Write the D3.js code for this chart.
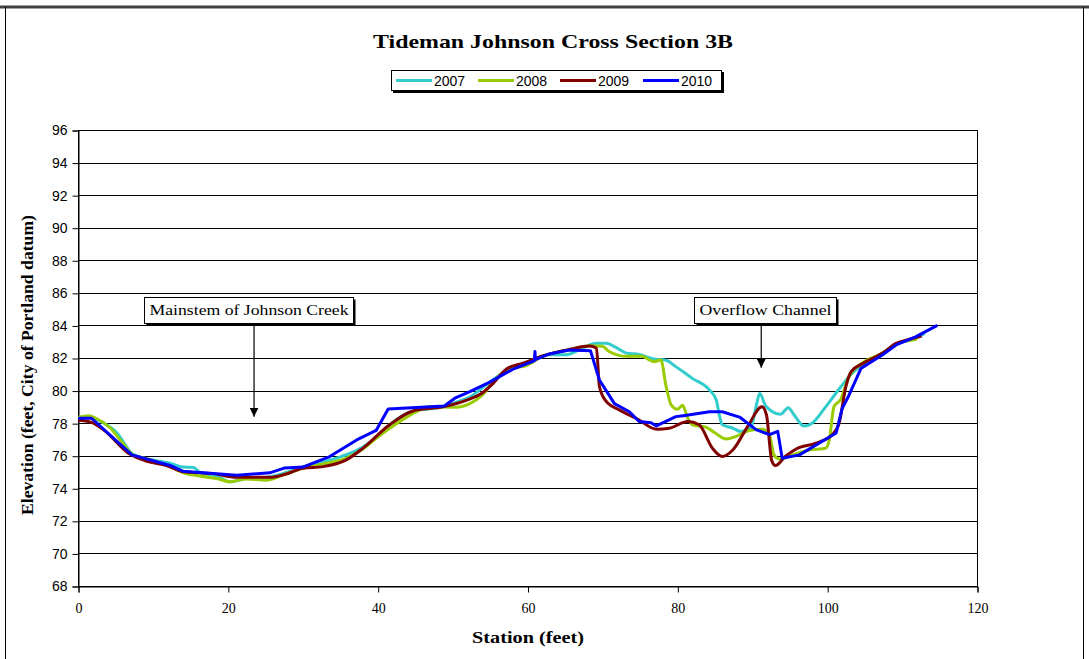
<!DOCTYPE html>
<html>
<head>
<meta charset="utf-8">
<script src="https://cdn.jsdelivr.net/npm/d3@7"></script>
<style>
  html, body { margin: 0; padding: 0; background: #fff; }
  svg { display: block; }
</style>
</head>
<body>
<svg id="chart" width="1089" height="659"></svg>
<script>
// Survey years and their line colours
const years = ["2007", "2008", "2009", "2010"];
const colors = ["#33CCCC", "#99CC00", "#800000", "#0000FF"];

// Surveyed profiles: [station (ft), elevation (ft)]
const profile2007 = [
  [0, 78.35], [1.6, 78.4], [2.6, 78.2], [5.2, 77.4], [7.3, 76.1], [10.0, 75.74], [12.3, 75.54],
  [14.0, 75.3], [15.4, 75.28], [16.3, 74.97], [18.5, 74.76], [20.3, 74.4], [22.5, 74.6],
  [25.6, 74.7], [27.8, 74.97], [30.0, 75.3], [34.5, 75.85], [37.2, 76.33], [39.8, 77.1],
  [41.6, 77.9], [44.7, 78.75], [48.7, 79.0], [50.7, 79.32], [52.3, 79.6], [54.5, 80.35],
  [56.7, 81.07], [58.9, 81.57], [61.2, 81.98], [62.9, 82.2], [65.2, 82.2], [66.9, 82.5],
  [69.2, 82.9], [70.5, 82.9], [71.8, 82.65], [73.2, 82.3], [74.9, 82.22], [76.7, 81.95],
  [78.5, 81.86], [79.8, 81.47], [82.0, 80.75], [84.3, 80.03], [85.2, 79.42], [85.6, 78.5],
  [86.0, 77.9], [87.4, 77.7], [88.5, 77.48], [89.8, 77.7], [90.5, 79.0], [91.0, 79.82],
  [91.8, 79.06], [93.8, 78.55], [94.8, 78.95], [95.6, 78.5], [96.9, 77.82], [98.0, 78.0],
  [99.8, 79.0], [101.6, 80.1], [103.8, 81.26], [105.1, 81.6], [107.4, 82.3], [109.2, 82.85],
  [111.8, 83.2], [113.0, 83.5]
];
const profile2008 = [
  [0, 78.35], [1.4, 78.45], [2.4, 78.3], [4.3, 77.7], [6.0, 76.76], [7.3, 76.05], [9.2, 75.8],
  [12.3, 75.33], [14.0, 74.97], [16.7, 74.72], [18.5, 74.6], [20.3, 74.4], [22.5, 74.57],
  [25.2, 74.5], [27.4, 74.82], [30.0, 75.23], [32.7, 75.49], [35.8, 75.85], [38.0, 76.4],
  [39.8, 77.07], [42.3, 77.9], [45.2, 78.71], [46.9, 79.0], [50.5, 78.98], [52.3, 79.2],
  [54.0, 79.73], [55.8, 80.75], [57.6, 81.3], [60.0, 81.57], [62.0, 82.1], [65.6, 82.5],
  [68.3, 82.75], [70.0, 82.72], [70.9, 82.4], [73.2, 82.1], [75.2, 82.1], [76.9, 81.78],
  [77.8, 81.88], [78.5, 80.25], [79.2, 79.1], [80.0, 78.85], [80.7, 79.1], [81.4, 78.3],
  [82.0, 77.9], [83.8, 77.75], [85.1, 77.38], [86.5, 77.03], [87.8, 77.18], [89.6, 77.55],
  [91.4, 77.63], [92.3, 77.27], [92.9, 76.05], [93.6, 75.8], [95.4, 76.05], [97.6, 76.35],
  [99.8, 76.46], [100.3, 77.0], [100.9, 79.0], [101.8, 79.45], [102.9, 80.85], [104.7, 81.7],
  [107.4, 82.3], [109.2, 82.85], [112.0, 83.15]
];
const profile2009 = [
  [0, 78.2], [1.8, 78.05], [3.4, 77.6], [6.9, 76.1], [9.2, 75.65], [11.8, 75.4], [14.0, 75.02],
  [18.0, 74.9], [21.2, 74.67], [25.6, 74.67], [27.8, 74.88], [30.0, 75.23], [32.7, 75.33],
  [35.8, 75.74], [38.0, 76.45], [41.6, 77.9], [44.7, 78.75], [48.7, 79.0], [51.8, 79.4],
  [53.8, 79.8], [55.2, 80.35], [57.2, 81.33], [59.4, 81.68], [62.0, 82.12], [65.6, 82.53],
  [68.3, 82.73], [69.2, 82.6], [69.6, 80.25], [70.4, 79.4], [72.3, 78.8], [74.5, 78.3],
  [77.3, 77.62], [78.9, 77.68], [81.4, 78.1], [82.9, 77.9], [84.7, 76.45], [86.0, 75.95],
  [87.4, 76.35], [89.4, 77.8], [91.3, 79.0], [91.9, 78.5], [92.6, 75.7], [93.1, 75.4],
  [94.4, 75.95], [95.8, 76.4], [98.5, 76.77], [100.7, 77.3], [101.6, 78.0], [102.5, 80.25],
  [103.2, 81.17], [104.8, 81.68], [107.4, 82.3], [109.2, 82.9], [110.6, 83.1], [112.6, 83.35]
];
const profile2010 = [
  [0, 78.3], [1.8, 78.3], [7.2, 76.05], [12.3, 75.4], [14.0, 75.05], [21.2, 74.8],
  [25.6, 74.95], [27.6, 75.25], [30.0, 75.3], [33.6, 75.95], [37.2, 76.97], [39.8, 77.55],
  [41.4, 78.87], [48.9, 79.05], [50.3, 79.53], [52.3, 79.93], [54.9, 80.5], [58.0, 81.3],
  [60.9, 81.83], [61.0, 82.4], [61.05, 81.9], [62.9, 82.25], [65.6, 82.49], [68.4, 82.45],
  [69.6, 80.65], [71.6, 79.2], [73.6, 78.7], [74.9, 78.1], [76.5, 78.03], [77.2, 77.83],
  [79.8, 78.4], [80.8, 78.46], [84.3, 78.7], [86.0, 78.7], [88.4, 78.35], [90.5, 77.6],
  [92.3, 77.3], [93.4, 77.5], [94.0, 75.85], [96.3, 76.05], [101.2, 77.4], [102.0, 78.9],
  [102.9, 79.7], [104.5, 81.35], [107.4, 82.2], [109.2, 82.8], [111.8, 83.3], [114.7, 84.0]
];
const profiles = [profile2007, profile2008, profile2009, profile2010];

// Axis ticks
const xTicks = [0, 20, 40, 60, 80, 100, 120];
const yTicks = [68, 70, 72, 74, 76, 78, 80, 82, 84, 86, 88, 90, 92, 94, 96];

// Text
const titleText = "Tideman Johnson Cross Section 3B";
const xTitle = "Station (feet)";
const yTitle = "Elevation (feet, City of Portland datum)";
const notes = [
  { text: "Mainstem of Johnson Creek", x: 23.5, left: 144, width: 209, yTop: 297, tip: 78.4 },
  { text: "Overflow Channel", x: 91.2, left: 694, width: 142, yTop: 297, tip: 81.4 }
];

const serif = "'Palatino Linotype', 'Book Antiqua', Palatino, 'Liberation Serif', 'DejaVu Serif', serif";
const sans = "Arial, 'Liberation Sans', Helvetica, sans-serif";

const svg = d3.select("#chart");
const W = 1089, H = 659;
const plot = { left: 78, right: 977, top: 130, bottom: 586 };

const x = d3.scaleLinear().domain([0, 120]).range([plot.left, plot.right]);
const y = d3.scaleLinear().domain([68, 96]).range([plot.bottom, plot.top]);

// Outer frame
svg.append("rect").attr("x", 0).attr("y", 0).attr("width", W).attr("height", H).attr("fill", "#fff");
svg.append("line").attr("x1", 0).attr("x2", W).attr("y1", 7).attr("y2", 7)
  .attr("stroke", "#404040").attr("stroke-width", 3);
svg.append("line").attr("x1", 5.5).attr("x2", 5.5).attr("y1", 7).attr("y2", H)
  .attr("stroke", "#000").attr("stroke-width", 1);
svg.append("line").attr("x1", 1083.5).attr("x2", 1083.5).attr("y1", 7).attr("y2", H)
  .attr("stroke", "#000").attr("stroke-width", 1);

// Title
svg.append("text").attr("x", 553).attr("y", 48).attr("text-anchor", "middle")
  .attr("font-family", serif).attr("font-weight", "bold").attr("font-size", 19)
  .attr("textLength", 360).attr("lengthAdjust", "spacingAndGlyphs")
  .text(titleText);

// Legend
const lg = svg.append("g");
lg.append("rect").attr("x", 393).attr("y", 72).attr("width", 331).attr("height", 21).attr("fill", "#000");
lg.append("rect").attr("x", 391.5).attr("y", 70.5).attr("width", 330).attr("height", 20)
  .attr("fill", "#fff").attr("stroke", "#000").attr("stroke-width", 1);
const legendX = [396, 478, 560, 643];
years.forEach((yr, i) => {
  lg.append("line").attr("x1", legendX[i]).attr("x2", legendX[i] + 36)
    .attr("y1", 80.5).attr("y2", 80.5).attr("stroke", colors[i]).attr("stroke-width", 3);
  lg.append("text").attr("x", legendX[i] + 38).attr("y", 86)
    .attr("font-family", sans).attr("font-size", 14).attr("fill", "#000").text(yr);
});

// Horizontal gridlines
svg.append("g").selectAll("line").data(yTicks).join("line")
  .attr("x1", plot.left).attr("x2", plot.right)
  .attr("y1", d => Math.round(y(d)) + 0.5).attr("y2", d => Math.round(y(d)) + 0.5)
  .attr("stroke", "#000").attr("stroke-width", 1);

// Plot frame
svg.append("rect").attr("x", plot.left + 0.5).attr("y", plot.top + 0.5)
  .attr("width", plot.right - plot.left).attr("height", plot.bottom - plot.top)
  .attr("fill", "none").attr("stroke", "#000").attr("stroke-width", 1);

// Y axis
const yAxis = svg.append("g").attr("transform", `translate(${plot.left + 0.5},0.5)`)
  .call(d3.axisLeft(y).tickValues(yTicks).tickSize(6).tickPadding(5).tickFormat(d3.format("d")));
yAxis.select(".domain").attr("stroke", "#000");
yAxis.selectAll(".tick line").attr("stroke", "#000");
yAxis.selectAll(".tick text").attr("font-family", sans).attr("font-size", 14).attr("fill", "#000");

// X axis
const xAxis = svg.append("g").attr("transform", `translate(0.5,${plot.bottom + 0.5})`)
  .call(d3.axisBottom(x).tickValues(xTicks).tickSize(6).tickPadding(11).tickFormat(d3.format("d")));
xAxis.select(".domain").attr("stroke", "#000");
xAxis.selectAll(".tick line").attr("stroke", "#000");
xAxis.selectAll(".tick text").attr("font-family", serif).attr("font-size", 14).attr("fill", "#000");

// Axis titles
svg.append("text").attr("x", 528).attr("y", 643).attr("text-anchor", "middle")
  .attr("font-family", serif).attr("font-weight", "bold").attr("font-size", 17)
  .attr("textLength", 112).attr("lengthAdjust", "spacingAndGlyphs").text(xTitle);
svg.append("text").attr("transform", "translate(33,365) rotate(-90)").attr("text-anchor", "middle")
  .attr("font-family", serif).attr("font-weight", "bold").attr("font-size", 17)
  .attr("textLength", 300).attr("lengthAdjust", "spacingAndGlyphs").text(yTitle);

// Profiles
const line = d3.line().x(d => x(d[0])).y(d => y(d[1])).curve(d3.curveMonotoneX);
const lineSharp = d3.line().x(d => x(d[0])).y(d => y(d[1]));
profiles.forEach((p, i) => {
  svg.append("path").datum(p)
    .attr("d", i === 3 ? lineSharp : line)
    .attr("fill", "none").attr("stroke", colors[i]).attr("stroke-width", 3)
    .attr("stroke-linejoin", "round").attr("stroke-linecap", "butt");
});

// Callouts with arrows
const defs = svg.append("defs");
defs.append("marker").attr("id", "arrowhead").attr("viewBox", "0 0 10 10")
  .attr("refX", 10).attr("refY", 5).attr("markerWidth", 9).attr("markerHeight", 9)
  .attr("markerUnits", "userSpaceOnUse").attr("orient", "auto")
  .append("path").attr("d", "M0,0 L10,5 L0,10 Z").attr("fill", "#000");

notes.forEach(n => {
  const g = svg.append("g");
  const bh = 26;
  g.append("rect").attr("x", n.left + 2.5).attr("y", n.yTop + 2.5).attr("width", n.width).attr("height", bh)
    .attr("fill", "#000");
  g.append("rect").attr("x", n.left + 0.5).attr("y", n.yTop + 0.5).attr("width", n.width).attr("height", bh)
    .attr("fill", "#fff").attr("stroke", "#000").attr("stroke-width", 1);
  g.append("text").attr("font-family", serif).attr("font-size", 15)
    .attr("text-anchor", "middle").attr("x", n.left + n.width / 2 + 0.5).attr("y", n.yTop + 18)
    .attr("textLength", n.width - 10).attr("lengthAdjust", "spacingAndGlyphs").text(n.text);
  svg.append("line").attr("x1", x(n.x)).attr("x2", x(n.x))
    .attr("y1", n.yTop + bh + 1).attr("y2", y(n.tip))
    .attr("stroke", "#000").attr("stroke-width", 1.2).attr("marker-end", "url(#arrowhead)");
});
</script>
</body>
</html>
